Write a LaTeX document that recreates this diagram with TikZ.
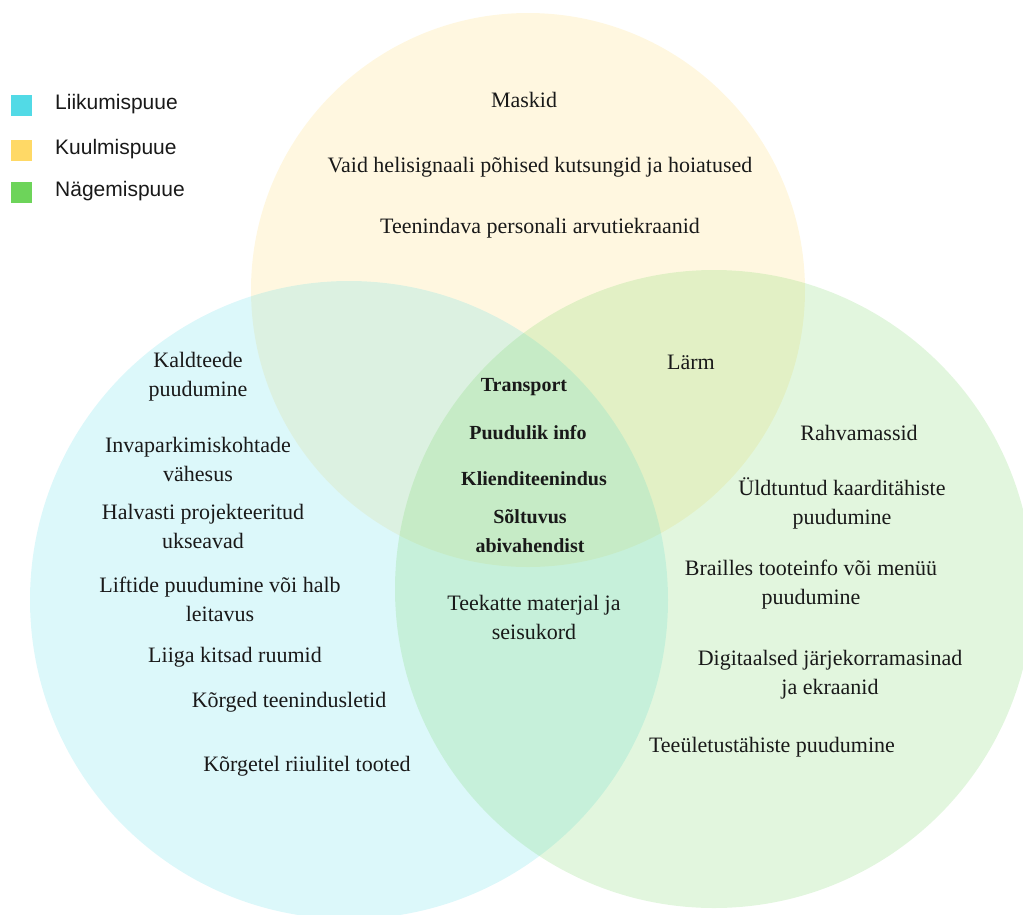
\documentclass[tikz,border=0pt]{standalone}
\usepackage{fontspec}
\setmainfont{Liberation Serif}
\newfontfamily\legfont{Liberation Sans}
\definecolor{cyanC}{RGB}{82,218,230}
\definecolor{yellowC}{RGB}{255,217,102}
\definecolor{greenC}{RGB}{109,212,90}
\definecolor{txt}{RGB}{25,25,25}
\begin{document}
\begin{tikzpicture}[x=1pt,y=-1pt,
  lbl/.style={align=center, font=\fontsize{22}{29}\selectfont, text=txt, inner sep=0pt},
  blbl/.style={align=center, font=\fontsize{20}{29}\selectfont\bfseries, text=txt, inner sep=0pt},
  leg/.style={anchor=west, font=\legfont\fontsize{21}{25}\selectfont, text=txt, inner sep=0pt},
  swatch/.style={minimum size=21pt, inner sep=0pt, draw=none},
  venn/.style={fill opacity=0.2}]
\useasboundingbox (0,0) rectangle (1023,914);
\begin{scope}
\clip (0,0) rectangle (1023,914);
\fill[venn, fill=yellowC] (528,290) circle[radius=277];
\fill[venn, fill=cyanC] (349,600) circle[radius=319];
\fill[venn, fill=greenC] (714,589) circle[radius=319];
\end{scope}
% legend
\node[swatch, fill=cyanC] (s1) at (21.5,105.5) {};
\node[swatch, fill=yellowC] (s2) at (21.5,150.5) {};
\node[swatch, fill=greenC] (s3) at (21.5,192.5) {};
\node[leg] (l1) at (55,104) {Liikumispuue};
\node[leg] (l2) at (55,149) {Kuulmispuue};
\node[leg] (l3) at (55,191) {Nägemispuue};
% yellow only
\node[lbl] (t1) at (524,100) {Maskid};
\node[lbl] (t2) at (540,167) {Vaid helisignaali põhised kutsungid ja hoiatused};
\node[lbl] (t3) at (540,228) {Teenindava personali arvutiekraanid};
% cyan only
\node[lbl] (c1) at (198,377) {Kaldteede\\puudumine};
\node[lbl] (c2) at (198,459) {Invaparkimiskohtade\\vähesus};
\node[lbl] (c3) at (203,526) {Halvasti projekteeritud\\ukseavad};
\node[lbl] (c4) at (220,599) {Liftide puudumine või halb\\leitavus};
\node[lbl] (c5) at (235,657) {Liiga kitsad ruumid};
\node[lbl] (c6) at (289,702) {Kõrged teenindusletid};
\node[lbl] (c7) at (307,766) {Kõrgetel riiulitel tooted};
% centre
\node[blbl] (m1) at (524,387) {Transport};
\node[blbl] (m2) at (528,433) {Puudulik info};
\node[blbl] (m3) at (534,479) {Klienditeenindus};
\node[blbl] (m4) at (530,531) {Sõltuvus\\abivahendist};
\node[lbl] (m5) at (534,617) {Teekatte materjal ja\\seisukord};
\node[lbl] (m6) at (691,362) {Lärm};
% green only
\node[lbl] (g1) at (859,433) {Rahvamassid};
\node[lbl] (g2) at (842,503) {Üldtuntud kaarditähiste\\puudumine};
\node[lbl] (g3) at (811,585) {Brailles tooteinfo või menüü\\puudumine};
\node[lbl] (g4) at (830,675) {Digitaalsed järjekorramasinad\\ja ekraanid};
\node[lbl] (g5) at (772,747) {Teeületustähiste puudumine};
\end{tikzpicture}
\end{document}
